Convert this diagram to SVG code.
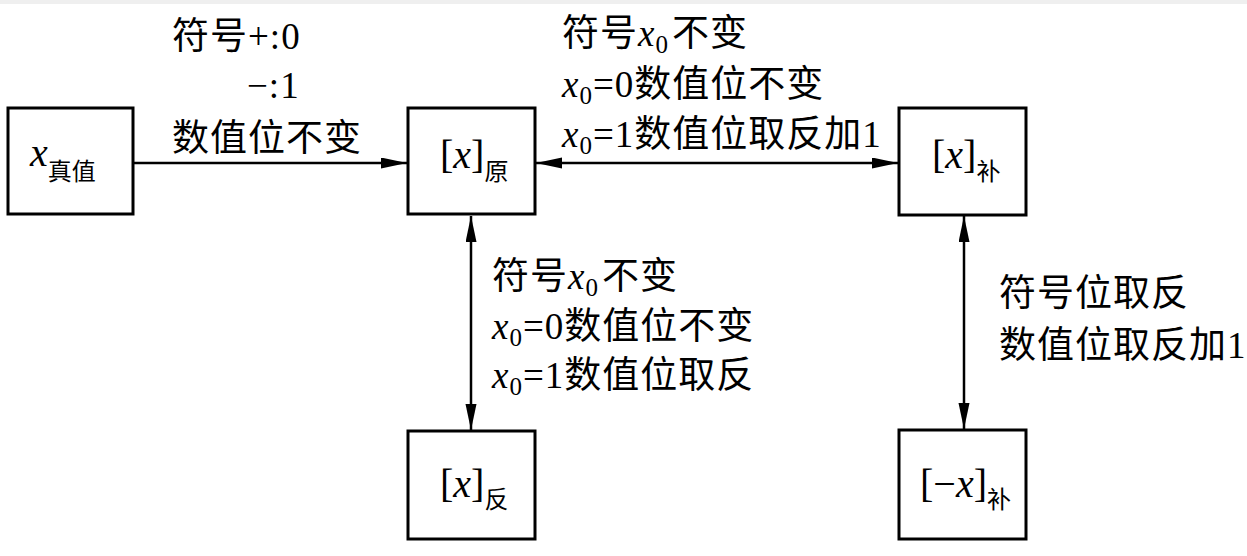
<svg xmlns="http://www.w3.org/2000/svg" width="1247" height="556" viewBox="0 0 1247 556">
<style>
.box{fill:#fff;stroke:#000;stroke-width:3}
.cn{stroke:#000;stroke-width:2.5;fill:none}
text{fill:#000}
.lbl{font-size:37px;letter-spacing:1px}
.nd{font-size:40px}
.l{font-family:"Liberation Serif","Times New Roman",serif}
.c{font-family:"Noto Sans CJK SC","Noto Sans CJK JP",sans-serif}
.i{font-style:italic}
.sub{font-size:24px}
.s0{font-size:25px}
</style>
<defs>
<marker id="ah" markerUnits="userSpaceOnUse" markerWidth="27" markerHeight="12" refX="26" refY="5.5" orient="auto-start-reverse">
<path d="M0,0 L26,5.5 L0,11 Z" fill="#000"/>
</marker>
</defs>
<rect x="0" y="0" width="1247" height="556" fill="#fff"/>
<rect x="0" y="0" width="1247" height="4" fill="#efefef"/>

<g id="connectors">
<line class="cn" x1="133" y1="163" x2="407" y2="163" marker-end="url(#ah)"/>
<line class="cn" x1="536" y1="163" x2="898" y2="163" marker-start="url(#ah)" marker-end="url(#ah)"/>
<line class="cn" x1="471" y1="216" x2="471" y2="430" marker-start="url(#ah)" marker-end="url(#ah)"/>
<line class="cn" x1="964" y1="216" x2="964" y2="429" marker-start="url(#ah)" marker-end="url(#ah)"/>
</g>

<g id="labels">
<text class="lbl" x="172" y="49"><tspan class="c">符号</tspan><tspan class="l">+:0</tspan></text>
<text class="lbl l" x="247" y="98">−:1</text>
<text class="lbl c" x="172" y="151">数值位不变</text>

<text class="lbl" x="562" y="46"><tspan class="c">符号</tspan><tspan class="l i">x</tspan><tspan class="l s0" dy="7">0</tspan><tspan class="c" dx="3" dy="-7">不变</tspan></text>
<text class="lbl" x="562" y="97"><tspan class="l i">x</tspan><tspan class="l s0" dy="7">0</tspan><tspan class="l" dy="-7">=0</tspan><tspan class="c">数值位不变</tspan></text>
<text class="lbl" x="562" y="147"><tspan class="l i">x</tspan><tspan class="l s0" dy="7">0</tspan><tspan class="l" dy="-7">=1</tspan><tspan class="c">数值位取反加</tspan><tspan class="l">1</tspan></text>

<text class="lbl" x="492" y="289"><tspan class="c">符号</tspan><tspan class="l i">x</tspan><tspan class="l s0" dy="7">0</tspan><tspan class="c" dx="3" dy="-7">不变</tspan></text>
<text class="lbl" x="492" y="339"><tspan class="l i">x</tspan><tspan class="l s0" dy="7">0</tspan><tspan class="l" dy="-7">=0</tspan><tspan class="c">数值位不变</tspan></text>
<text class="lbl" x="492" y="388"><tspan class="l i">x</tspan><tspan class="l s0" dy="7">0</tspan><tspan class="l" dy="-7">=1</tspan><tspan class="c">数值位取反</tspan></text>

<text class="lbl c" x="999" y="306">符号位取反</text>
<text class="lbl" x="999" y="358"><tspan class="c">数值位取反加</tspan><tspan class="l">1</tspan></text>
</g>

<g id="node-true">
<rect class="box" x="8" y="108" width="125" height="106"/>
<text class="nd" x="30" y="166"><tspan class="l i">x</tspan><tspan class="c sub" dy="14">真值</tspan></text>
</g>

<g id="node-yuan">
<rect class="box" x="408" y="108" width="127" height="106"/>
<text class="nd" x="440" y="168"><tspan class="l">[</tspan><tspan class="l i">x</tspan><tspan class="l">]</tspan><tspan class="c sub" dy="12">原</tspan></text>
</g>

<g id="node-bu">
<rect class="box" x="899" y="108" width="127" height="107"/>
<text class="nd" x="932" y="168"><tspan class="l">[</tspan><tspan class="l i">x</tspan><tspan class="l">]</tspan><tspan class="c sub" dy="12">补</tspan></text>
</g>

<g id="node-fan">
<rect class="box" x="408" y="431" width="127" height="108"/>
<text class="nd" x="440" y="497"><tspan class="l">[</tspan><tspan class="l i">x</tspan><tspan class="l">]</tspan><tspan class="c sub" dy="11">反</tspan></text>
</g>

<g id="node-negbu">
<rect class="box" x="899" y="430" width="127" height="109"/>
<text class="nd" x="920" y="497"><tspan class="l">[−</tspan><tspan class="l i">x</tspan><tspan class="l">]</tspan><tspan class="c sub" dy="11">补</tspan></text>
</g>
</svg>
